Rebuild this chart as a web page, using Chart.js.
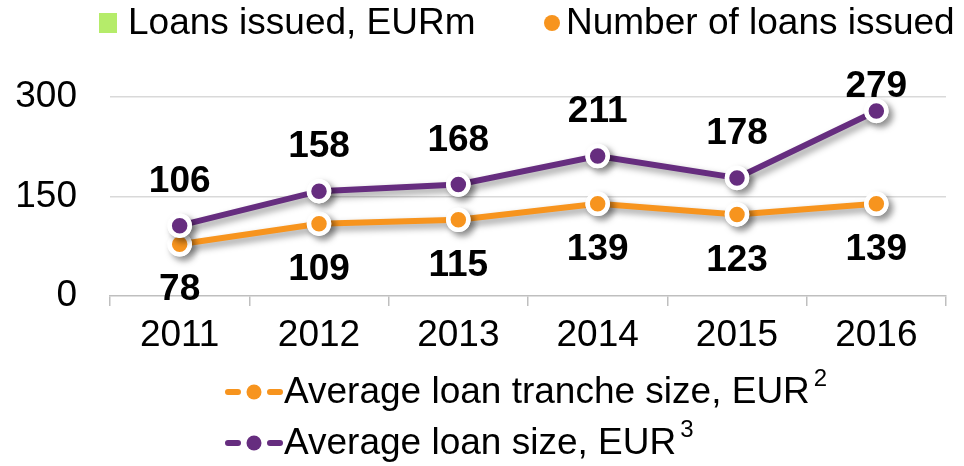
<!DOCTYPE html>
<html>
<head>
<meta charset="utf-8">
<script src="https://cdn.jsdelivr.net/npm/chart.js@4"></script>
<style>
  html, body { margin: 0; padding: 0; background: #fff; }
  #wrap { width: 964px; height: 466px; }
</style>
</head>
<body>
<div id="wrap"><canvas id="chart" width="964" height="466"></canvas></div>
<script>
// Data
const years = ["2011", "2012", "2013", "2014", "2015", "2016"];
const avgTrancheSize = [78, 109, 115, 139, 123, 139];
const avgLoanSize = [106, 158, 168, 211, 178, 279];
const yTicks = [0, 150, 300];

const topLegendLabels = ["Loans issued, EURm", "Number of loans issued"];
const seriesLabels = ["Average loan tranche size, EUR", "Average loan size, EUR"];
const seriesNotes = ["2", "3"];

const FONT = "'Liberation Sans', Arial, sans-serif";
const ORANGE = "#F7941E";
const PURPLE = "#662D7F";
const GREEN = "#B5EC6A";

// soft drop shadow under lines and markers, then markers again on top
const shadowPlugin = {
    id: "shadow",
    beforeDatasetDraw(chart) {
        const ctx = chart.ctx;
        ctx.save();
        ctx.shadowColor = "rgba(0,0,0,0.4)";
        ctx.shadowBlur = 7;
        ctx.shadowOffsetX = 4;
        ctx.shadowOffsetY = 4;
    },
    afterDatasetDraw(chart, args) {
        const ctx = chart.ctx;
        ctx.restore();
        args.meta.data.forEach((pt) => pt.draw(ctx));
    },
};

// bold value labels: purple above, orange below
const valueLabels = {
    id: "valueLabels",
    afterDatasetsDraw(chart) {
        const ctx = chart.ctx;
        ctx.save();
        ctx.font = "bold 37px " + FONT;
        ctx.fillStyle = "#000";
        ctx.textAlign = "center";
        ctx.textBaseline = "middle";
        chart.data.datasets.forEach((ds, i) => {
            const meta = chart.getDatasetMeta(i);
            meta.data.forEach((pt, j) => {
                let y;
                if (ds.labelPos === "above") {
                    y = Math.max(pt.y - 44, 87);
                } else {
                    y = pt.y + 46;
                }
                ctx.fillText(String(ds.data[j]), pt.x, y);
            });
        });
        ctx.restore();
    },
};

// top legend (series not drawn in this chart) and bottom line legend
const legends = {
    id: "legends",
    afterDraw(chart) {
        const ctx = chart.ctx;
        ctx.save();
        ctx.font = "37px " + FONT;
        ctx.textBaseline = "middle";
        ctx.textAlign = "left";

        // top row
        ctx.fillStyle = GREEN;
        ctx.fillRect(99, 13, 18, 20);
        ctx.fillStyle = "#000";
        ctx.fillText(topLegendLabels[0], 128, 24);
        ctx.fillStyle = ORANGE;
        ctx.beginPath();
        ctx.arc(552, 23, 8, 0, Math.PI * 2);
        ctx.fill();
        ctx.fillStyle = "#000";
        ctx.fillText(topLegendLabels[1], 566, 24);

        // bottom rows
        const rowsY = [392, 443];
        chart.data.datasets.forEach((ds) => {
            const k = ds.legendRow;
            const y = rowsY[k];
            ctx.strokeStyle = ds.borderColor;
            ctx.lineWidth = 6;
            ctx.lineCap = "round";
            ctx.beginPath();
            ctx.moveTo(228, y);
            ctx.lineTo(238, y);
            ctx.moveTo(270, y);
            ctx.lineTo(280, y);
            ctx.stroke();
            ctx.fillStyle = ds.borderColor;
            ctx.beginPath();
            ctx.arc(254, y, 7.5, 0, Math.PI * 2);
            ctx.fill();
            ctx.fillStyle = "#000";
            ctx.font = "37px " + FONT;
            ctx.fillText(seriesLabels[k], 284, y + 1);
            const w = ctx.measureText(seriesLabels[k]).width;
            ctx.font = "24px " + FONT;
            ctx.fillText(seriesNotes[k], 284 + w + 4, y - 13);
            ctx.font = "37px " + FONT;
        });
        ctx.restore();
    },
};

new Chart(document.getElementById("chart"), {
    type: "line",
    data: {
        labels: years,
        datasets: [{
                label: seriesLabels[0],
                data: avgTrancheSize,
                borderColor: ORANGE,
                backgroundColor: ORANGE,
                borderWidth: 6,
                pointRadius: 10,
                pointBorderWidth: 4.5,
                pointBackgroundColor: ORANGE,
                pointBorderColor: "#fff",
                tension: 0,
                labelPos: "below",
                legendRow: 0,
                order: 2,
            },
            {
                label: seriesLabels[1],
                data: avgLoanSize,
                borderColor: PURPLE,
                backgroundColor: PURPLE,
                borderWidth: 6,
                pointRadius: 10,
                pointBorderWidth: 4.5,
                pointBackgroundColor: PURPLE,
                pointBorderColor: "#fff",
                tension: 0,
                labelPos: "above",
                legendRow: 1,
                order: 1,
            },
        ],
    },
    options: {
        responsive: false,
        animation: false,
        clip: false,
        layout: {
            padding: { top: 97, right: 18, left: 0, bottom: 0 },
        },
        plugins: {
            legend: { display: false },
            tooltip: { enabled: false },
        },
        scales: {
            x: {
                offset: true,
                grid: {
                    offset: true,
                    drawOnChartArea: false,
                    drawTicks: true,
                    tickLength: 10,
                    color: "#BFBFBF",
                    lineWidth: 1.5,
                },
                border: { color: "#BFBFBF", width: 1.5 },
                ticks: {
                    color: "#000",
                    font: { family: FONT, size: 37 },
                    padding: 8,
                    maxRotation: 0,
                },
                afterFit(scale) {
                    scale.height = 170;
                },
            },
            y: {
                min: yTicks[0],
                max: yTicks[yTicks.length - 1],
                afterBuildTicks(scale) {
                    scale.ticks = yTicks.map((v) => ({ value: v }));
                },
                grid: {
                    drawTicks: false,
                    color: (c) => (c.tick && c.tick.value === 0 ? "rgba(0,0,0,0)" : "#D9D9D9"),
                    lineWidth: 1.5,
                },
                border: { display: false },
                ticks: {
                    color: "#000",
                    font: { family: FONT, size: 37 },
                    padding: 33,
                },
                afterFit(scale) {
                    scale.width = 110;
                },
            },
        },
    },
    plugins: [shadowPlugin, valueLabels, legends],
});
</script>
</body>
</html>
